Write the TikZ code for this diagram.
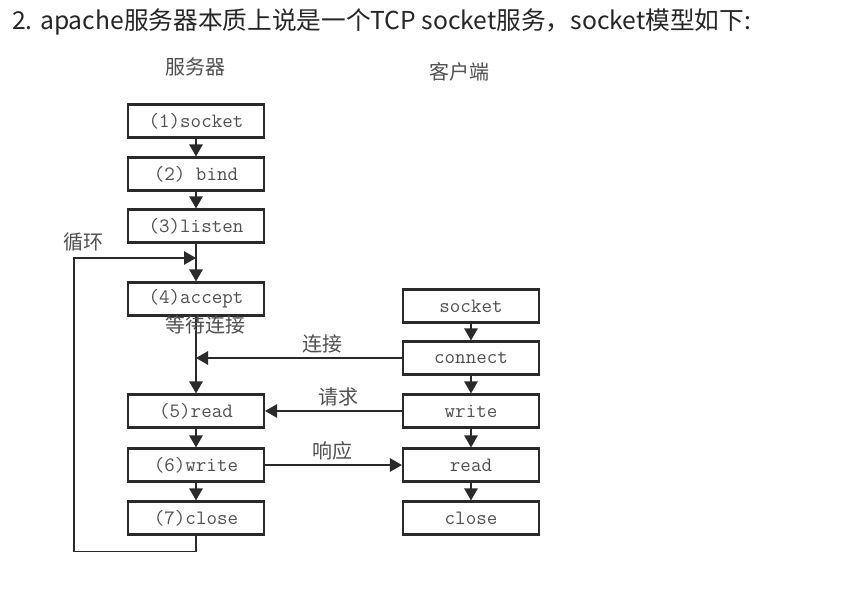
\documentclass[tikz,border=0pt]{standalone}
\usepackage{fontspec}
\newfontfamily\cjk{Noto Sans CJK SC}
\usetikzlibrary{arrows.meta}
\definecolor{ln}{HTML}{2a2a2a}
\definecolor{tx}{HTML}{505050}
\begin{document}
\begin{tikzpicture}[x=0.75pt,y=-0.75pt,
  box/.style={draw=ln,line width=1.6pt,minimum width=136*0.75pt,minimum height=33*0.75pt,inner sep=0pt,font=\ttfamily\fontsize{15.3}{15.3}\selectfont,text=tx},
  lbl/.style={font=\cjk\fontsize{15}{15}\selectfont,text=tx,inner sep=0pt},
  con/.style={draw=ln,line width=1.3pt},
  arr/.style={con,-{Triangle[width=10pt,length=9pt]}}]
\useasboundingbox (0,0) rectangle (843,595);
\fill[white] (0,0) rectangle (843,595);
\node[anchor=west,inner sep=0pt,font=\cjk\fontsize{18.5}{18.5}\selectfont,text=black!85] (title) at (12,22) {2. apache服务器本质上说是一个TCP socket服务，socket模型如下:};
\node[lbl] (srv) at (195,67) {服务器};
\node[lbl] (cli) at (459,72) {客户端};
% server
\node[box] (s1) at (196,121) {(1)socket};
\node[box] (s2) at (196,174) {(2) bind};
\node[box] (s3) at (196,226) {(3)listen};
\node[box] (s4) at (196,299) {(4)accept};
\node[box] (s5) at (196,411) {(5)read};
\node[box] (s6) at (196,465) {(6)write};
\node[box] (s7) at (196,518) {(7)close};
% client
\node[box] (c1) at (471,306) {socket};
\node[box] (c2) at (471,358) {connect};
\node[box] (c3) at (471,411) {write};
\node[box] (c4) at (471,465) {read};
\node[box] (c5) at (471,518) {close};
\draw[arr] (s1) -- (s2);
\draw[arr] (s2) -- (s3);
\draw[arr] (s3) -- (s4);
\draw[arr] (s4) -- (s5);
\draw[arr] (s5) -- (s6);
\draw[arr] (s6) -- (s7);
\draw[arr] (c1) -- (c2);
\draw[arr] (c2) -- (c3);
\draw[arr] (c3) -- (c4);
\draw[arr] (c4) -- (c5);
% loop
\coordinate (lp) at (196,258);
\draw[arr] (s7.south) -- ++(0,16) -| (74,258) -- (lp);
\node[lbl] (loop) at (83,242) {循环};
\node[lbl] (wait) at (205,325) {等待连接};
% connect
\coordinate (cj) at (196,358);
\draw[arr] (c2.west) -- (cj);
\node[lbl] (conl) at (322,344) {连接};
\draw[arr] (c3.west) -- (s5.east);
\node[lbl] (req) at (338,397) {请求};
\draw[arr] (s6.east) -- (c4.west);
\node[lbl] (resp) at (332,451) {响应};
\end{tikzpicture}
\end{document}
